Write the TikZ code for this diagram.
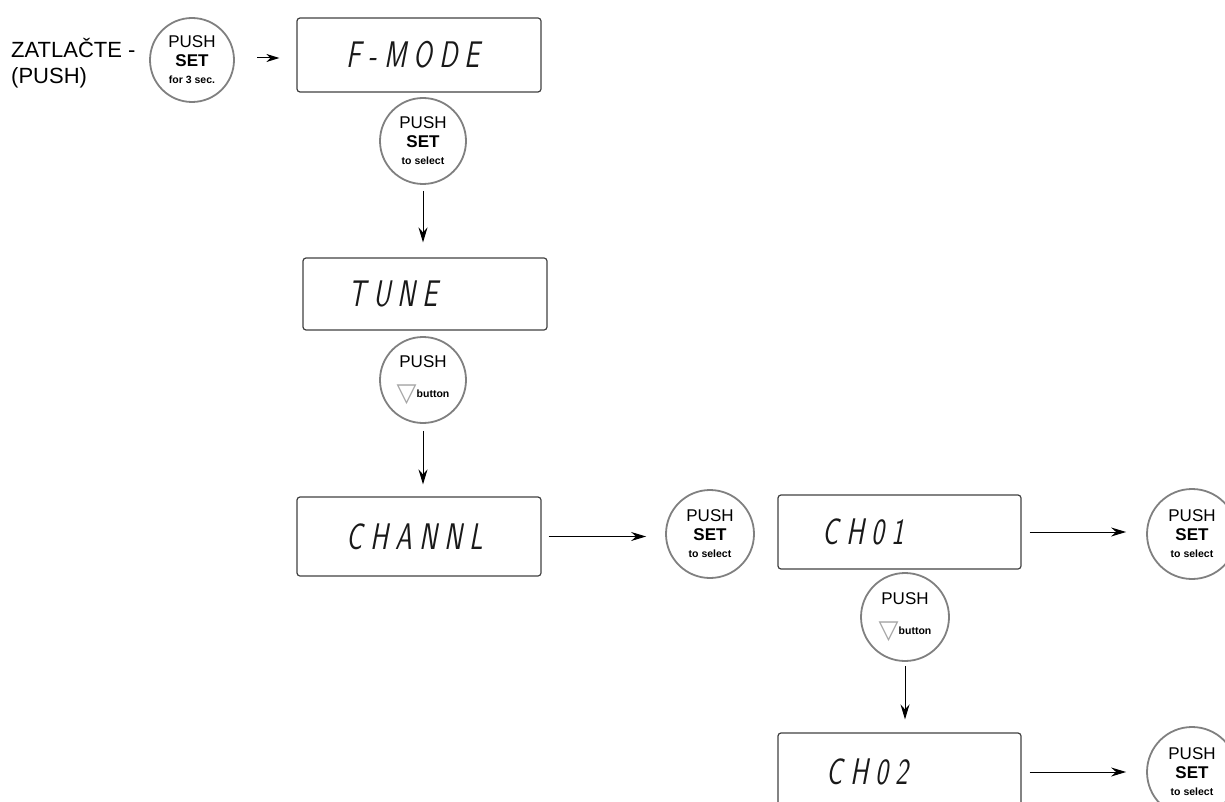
\documentclass[tikz,border=0pt]{standalone}
\usepackage{fontspec}
\setmainfont{Liberation Sans}
\newfontfamily\lcdfont[FakeSlant=0.26,LetterSpace=28]{Latin Modern Sans}
\newfontfamily\symfont{DejaVu Sans}
\usetikzlibrary{arrows.meta}
\usetikzlibrary{calc}

\newcommand{\pushsel}[1]{PUSH\\{\bfseries SET}\\[-2pt]{\fontsize{10.5}{12}\selectfont\bfseries #1}}
\newcommand{\pushdown}{PUSH\\[11pt]{\symfont\fontsize{26}{26}\selectfont\color{black!35}\raisebox{-4pt}{▽}}{\fontsize{10.5}{12}\selectfont\bfseries button}}
\newcommand{\lcd}[1]{\scalebox{0.72}[1]{#1}}

\begin{document}
\begin{tikzpicture}[x=1pt, y=-1pt,
  lcdbox/.style={draw=black!75, line width=1.2pt, rounded corners=3pt},
  lcdtxt/.style={font=\lcdfont\fontsize{37}{37}\selectfont, text=black!90, inner sep=0pt},
  btn/.style={circle, draw=black!50, line width=1.8pt, align=center, inner sep=0pt, font=\fontsize{17}{19}\selectfont},
  arr/.style={-{Stealth[length=15pt,width=9pt,inset=5pt]}, line width=1pt}]

 \useasboundingbox (0,0) rectangle (1225,802);

 %displays
 \foreach \name/\x/\y/\w/\h in {FM/419/55/244/74, TU/425/294/244/72, CN/419/536.5/244/79, CA/899.5/532/243/74, CB/899.5/772/243/78} {
   \node[lcdbox, minimum width=\w pt, minimum height=\h pt] (\name) at (\x,\y) {};
 }
 \foreach \name/\txt/\dx in {FM/F-MODE/50, TU/TUNE/46, CN/CHANNL/50, CA/CH01/45, CB/CH02/49} {
   \node[lcdtxt, anchor=west] (T\name) at ([xshift=\dx pt]\name.west) {\lcd{\txt}};
 }

 %buttons
 \node[btn, minimum size=84pt] (H) at (192,60) {PUSH\\{\bfseries SET}\\[-2pt]{\fontsize{10.5}{12}\selectfont\bfseries for 3 sec.}};
 \node[btn, minimum size=86pt] (S1) at (423,141) {\pushsel{to select}};
 \node[btn, minimum size=86pt] (D1) at (423,380) {\pushdown};
 \node[btn, minimum size=88pt] (S2) at (710,534) {\pushsel{to select}};
 \node[btn, minimum size=90pt] (S3) at (1192,534) {\pushsel{to select}};
 \node[btn, minimum size=88pt] (D2) at (905,617) {\pushdown};
 \node[btn, minimum size=90pt] (S4) at (1192,772) {\pushsel{to select}};

 %label
 \node[anchor=west, align=left, font=\fontsize{22}{26}\selectfont, inner sep=0pt] (Z) at (11,63) {ZATLAČTE -\\(PUSH)};

 %arrows
 \coordinate (A0) at (257,58);
 \draw[-{Stealth[length=13pt,width=8pt,inset=4pt]}, line width=1pt, shorten >=17pt] (A0) -- (A0 -| FM.west);
 \draw[arr, shorten <=6pt, shorten >=15pt] (S1.south) -- (S1.south |- TU.north);
 \draw[arr, shorten <=7pt, shorten >=12pt] (D1.south) -- (D1.south |- CN.north);
 \draw[arr, shorten <=7pt, shorten >=19pt] (CN.east) -- (CN.east -| S2.west);
 \draw[arr, shorten <=8pt, shorten >=20pt] (CA.east) -- (CA.east -| S3.west);
 \draw[arr, shorten <=4pt, shorten >=13pt] (D2.south) -- (D2.south |- CB.north);
 \draw[arr, shorten <=8pt, shorten >=20pt] (CB.east) -- (CB.east -| S4.west);

\end{tikzpicture}
\end{document}
